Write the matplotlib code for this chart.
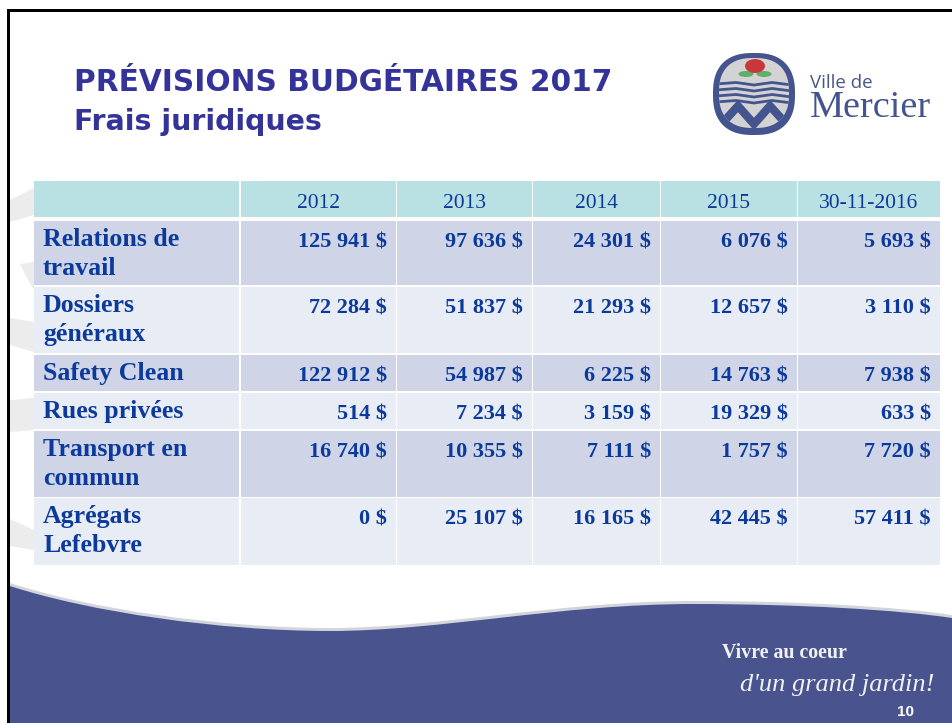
import numpy as np
import matplotlib
matplotlib.use('Agg')
import matplotlib.pyplot as plt
from matplotlib.path import Path
from matplotlib.patches import PathPatch, Rectangle, Ellipse, Polygon

years = ['2012', '2013', '2014', '2015', '30-11-2016']
rows = ['Relations de\ntravail', 'Dossiers\ngénéraux', 'Safety Clean', 'Rues privées',
        'Transport en\ncommun', 'Agrégats\nLefebvre']
v_2012 = [125941, 72284, 122912, 514, 16740, 0]
v_2013 = [97636, 51837, 54987, 7234, 10355, 25107]
v_2014 = [24301, 21293, 6225, 3159, 7111, 16165]
v_2015 = [6076, 12657, 14763, 19329, 1757, 42445]
v_2016 = [5693, 3110, 7938, 633, 7720, 57411]
columns = [v_2012, v_2013, v_2014, v_2015, v_2016]

col_edges = [34, 240, 396, 532, 660, 797, 940]
row_tops = [221, 287, 355, 393, 431, 498]
row_bottoms = [285, 353, 391, 429, 497, 565]

BLUE = '#0b3a9c'
BAND = '#49548f'
LOGO = '#44548f'


def money(v):
    return f'{v:,}'.replace(',', ' ') + ' $'


def band(ax, off, color, z):
    # wavy top edge as beziers, then straight down round the page corner
    verts = [(10, 586 + off), (90, 612 + off), (220, 631 + off), (330, 631 + off),
             (440, 631 + off), (560, 604 + off), (693, 604 + off),
             (800, 604 + off), (900, 610 + off), (952, 618 + off),
             (952, 723), (10, 723), (10, 586 + off)]
    codes = [Path.MOVETO] + [Path.CURVE4] * 9 + [Path.LINETO] * 3
    ax.add_patch(PathPatch(Path(verts, codes), fc=color, ec='none', zorder=z))


fig = plt.figure(figsize=(9.52, 7.23), dpi=100)
ax = fig.add_axes([0, 0, 1, 1])
ax.set_xlim(0, 952)
ax.set_ylim(723, 0)
ax.axis('off')

# faint swooshes behind the table, left side
for pts in [[(10, 200), (34, 188), (34, 215), (10, 222)],
            [(20, 264), (34, 262), (34, 290), (28, 280)],
            [(10, 318), (34, 322), (34, 352), (10, 345)],
            [(10, 400), (34, 398), (34, 430), (10, 432)],
            [(10, 519), (34, 530), (34, 550), (10, 546)]]:
    ax.add_patch(Polygon(pts, fc='#ececec', ec='none', zorder=1))

# bottom band with its grey edge, then the blue
band(ax, -3, '#d3d5dd', 2)
band(ax, 0, BAND, 3)

# slide frame
ax.add_patch(Rectangle((7, 9), 945, 3, fc='black', ec='none', zorder=6))
ax.add_patch(Rectangle((7, 9), 3, 714, fc='black', ec='none', zorder=6))

# title
ax.text(74, 91, 'PRÉVISIONS BUDGÉTAIRES 2017', family='DejaVu Sans', weight='bold',
        fontsize=21.3, color='#333399', va='baseline', zorder=5)
ax.text(74, 130, 'Frais juridiques', family='DejaVu Sans', weight='bold',
        fontsize=20.4, color='#333399', va='baseline', zorder=5)

# logo
t = np.linspace(0, 2 * np.pi, 200)


def blob(cx, cy, rx, ry, n=2.5):
    x = cx + rx * np.sign(np.cos(t)) * np.abs(np.cos(t)) ** (2 / n)
    y = cy + ry * np.sign(np.sin(t)) * np.abs(np.sin(t)) ** (2 / n)
    return np.column_stack([x, y])


ax.add_patch(Polygon(blob(754, 94, 41, 41), fc=LOGO, ec='none', zorder=5))
inner = Polygon(blob(754, 93, 35, 35), fc='#d3d3d3', ec='none', zorder=6)
ax.add_patch(inner)
for yy in [84, 90, 96, 102]:
    wave, = ax.plot([716, 736, 754, 772, 792], [yy, yy - 1.5, yy + 1, yy - 1.5, yy + 1],
                    color=LOGO, lw=2, zorder=7)
    wave.set_clip_path(inner)
m_shape, = ax.plot([718, 738, 754, 770, 790], [128, 106, 124, 106, 128], color=LOGO, lw=6,
                   solid_joinstyle='miter', zorder=7)
m_shape.set_clip_path(inner)
ax.add_patch(Ellipse((755, 66), 20, 14, fc='#c8383a', ec='none', zorder=8))
ax.add_patch(Ellipse((746, 74), 15, 6, fc='#5fae6b', ec='none', zorder=7))
ax.add_patch(Ellipse((764, 74), 15, 6, fc='#5fae6b', ec='none', zorder=7))
ax.text(810, 88, 'Ville de', family='Open Sans', fontsize=13.5, color='#4a5587', zorder=5)
ax.text(810, 117, 'Mercier', family='Liberation Serif', fontsize=27.5, color=LOGO, zorder=5)

# table
ax.add_patch(Rectangle((34, 181), 205, 36, fc='#b9e0e2', ec='none', zorder=4))
for i, yr in enumerate(years):
    x0, x1 = col_edges[i + 1], col_edges[i + 2]
    ax.add_patch(Rectangle((x0 + 1, 181), x1 - x0 - 1, 36, fc='#b9e0e2', ec='none', zorder=4))
    ax.text((x0 + x1) / 2, 208, yr, family='Liberation Serif', fontsize=15.5, color=BLUE,
            ha='center', va='baseline', zorder=5)

for r, label in enumerate(rows):
    top, bottom = row_tops[r], row_bottoms[r]
    shade = '#cfd5e6' if r % 2 == 0 else '#e8ecf4'
    ax.add_patch(Rectangle((34, top), 205, bottom - top, fc=shade, ec='none', zorder=4))
    for line_no, line in enumerate(label.split('\n')):
        ax.text(43, top + 25 + 29 * line_no, line, family='Liberation Serif', weight='bold',
                fontsize=18.6, color=BLUE, va='baseline', zorder=5)
    for c, vals in enumerate(columns):
        x0, x1 = col_edges[c + 1], col_edges[c + 2]
        ax.add_patch(Rectangle((x0 + 1, top), x1 - x0 - 1, bottom - top, fc=shade, ec='none', zorder=4))
        ax.text(x1 - 9, top + 26.5, money(vals[r]), family='Liberation Serif', weight='bold',
                fontsize=16, color=BLUE, ha='right', va='baseline', zorder=5)

# footer
ax.text(722, 658, 'Vivre au coeur', family='Liberation Serif', weight='bold', fontsize=14.3,
        color='#f2f2f2', va='baseline', zorder=5)
ax.text(740, 691, "d'un grand jardin!", family='Liberation Serif', style='italic', fontsize=19,
        color='#f2f2f2', va='baseline', zorder=5)
ax.text(905, 716, '10', family='Liberation Sans', weight='bold', fontsize=11, color='white',
        ha='center', va='baseline', zorder=5)

fig.savefig('out.png', dpi=100)
